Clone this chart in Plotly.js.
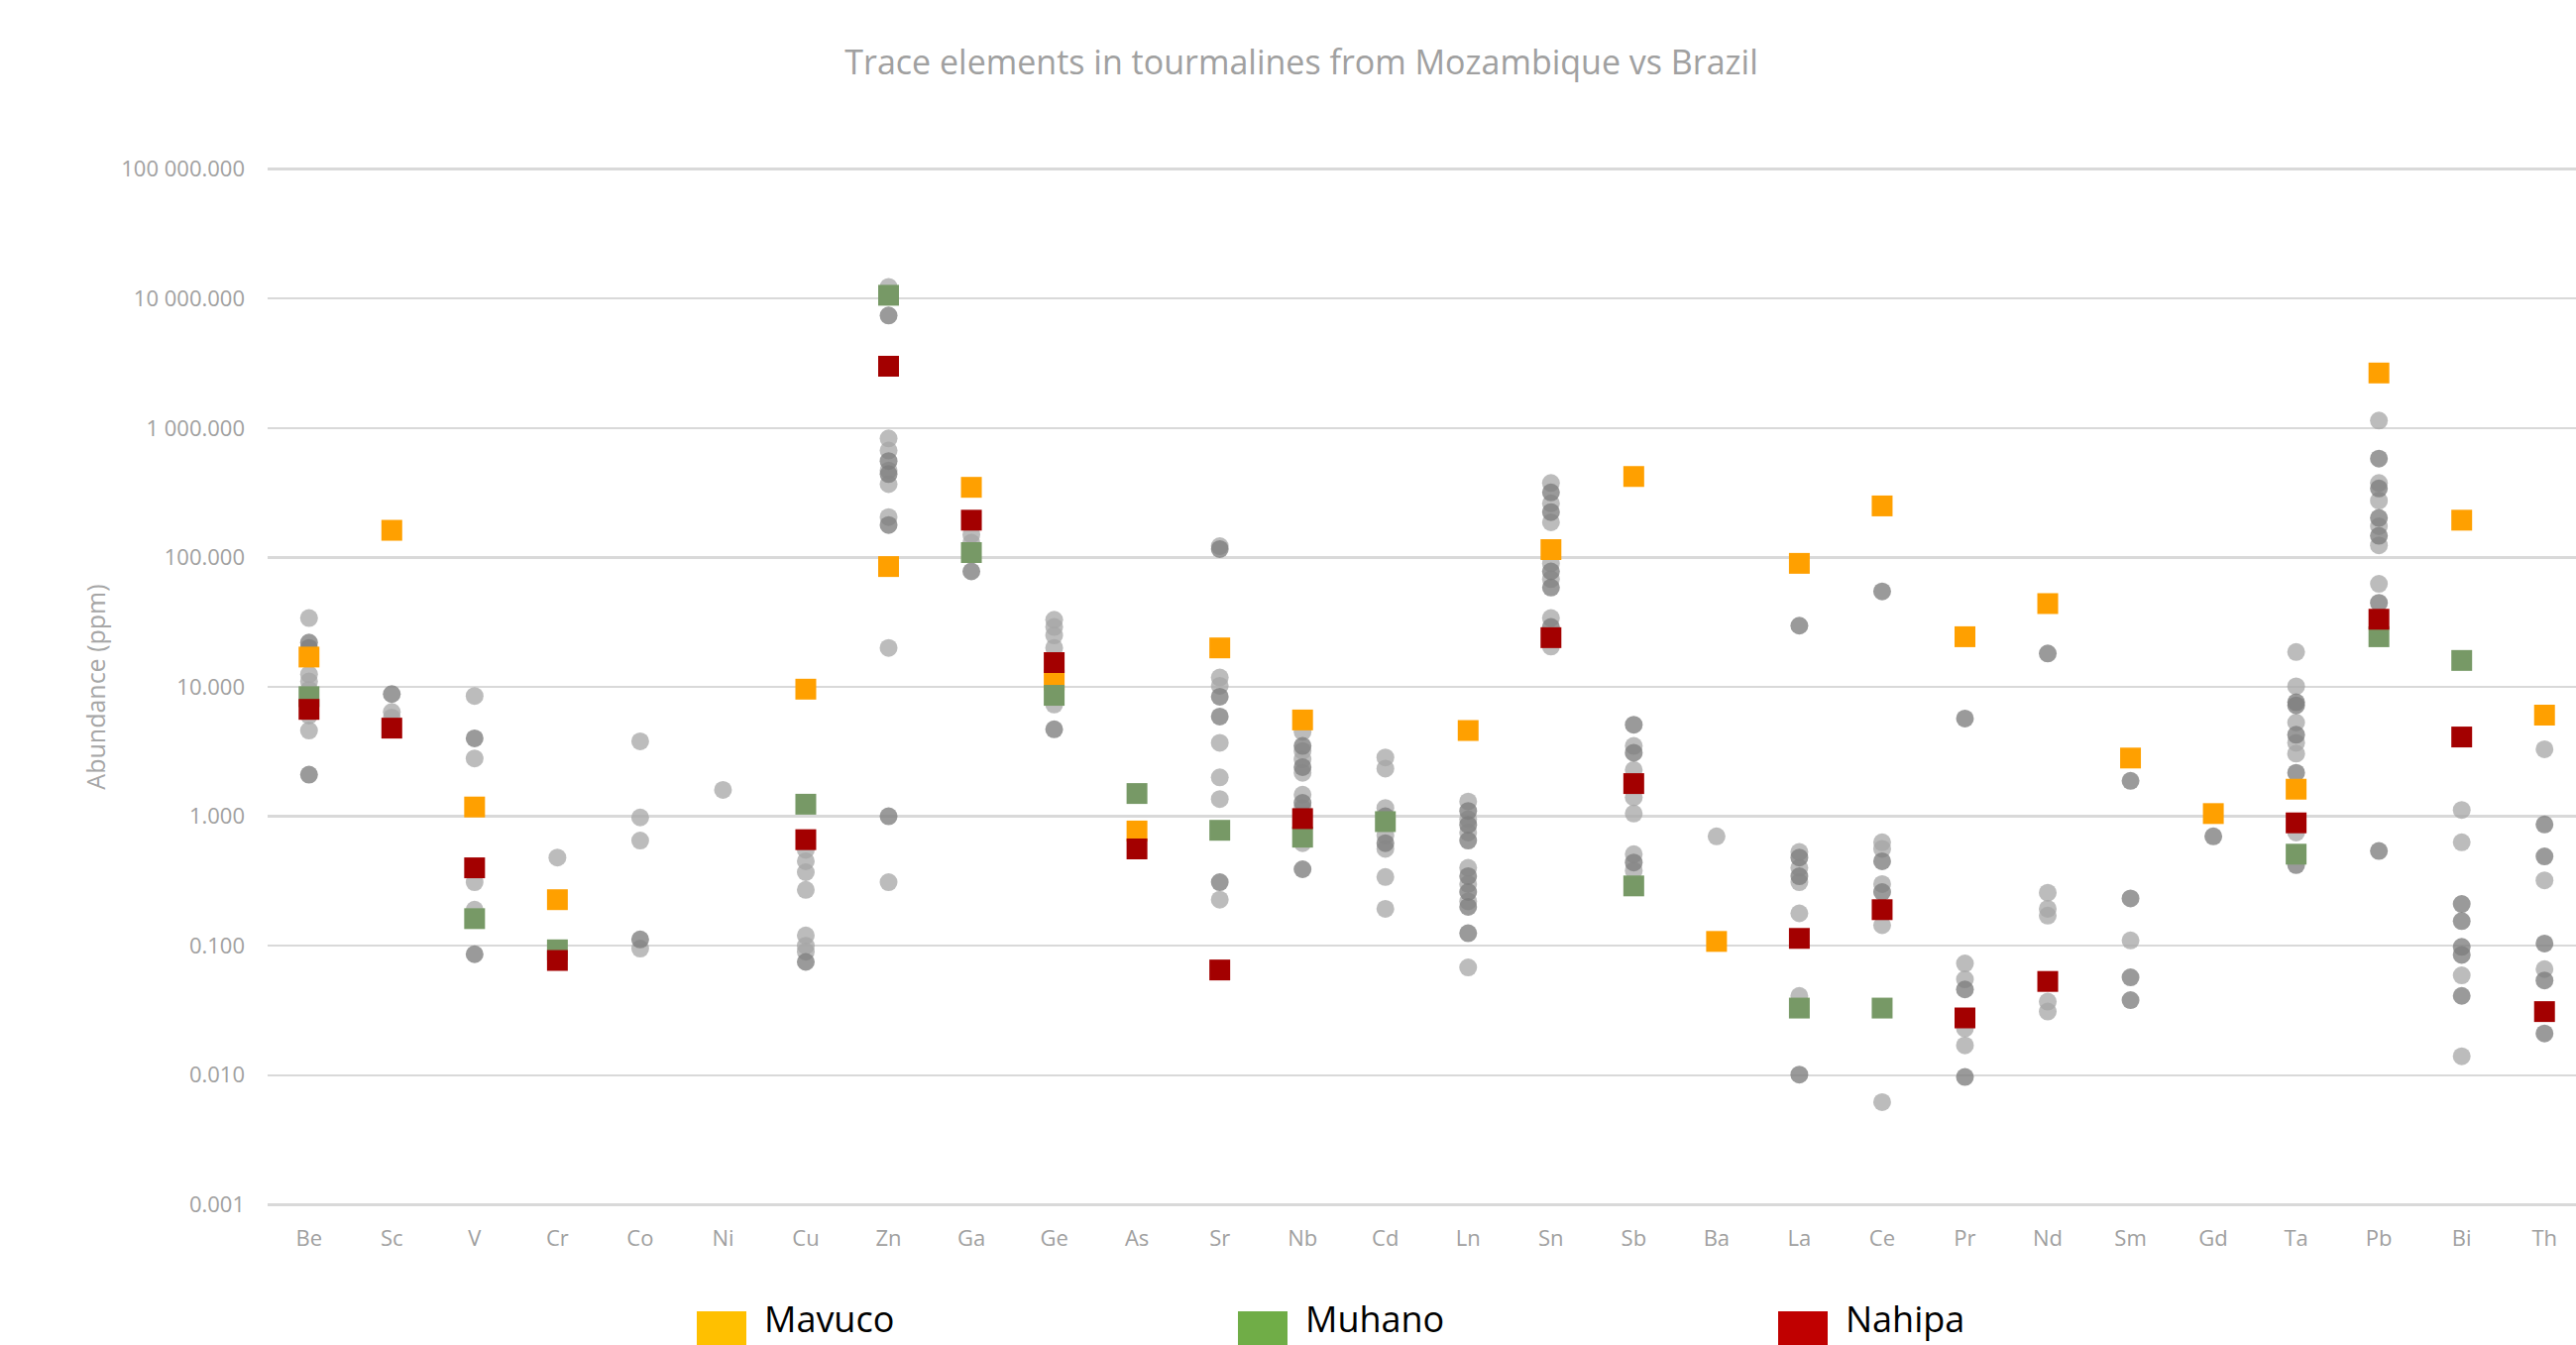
<!DOCTYPE html>
<html>
<head>
<meta charset="utf-8">
<script src="https://cdn.plot.ly/plotly-3.0.1.min.js"></script>
<style>
html, body { margin: 0; padding: 0; overflow: hidden; background: #ffffff; }
#chart { width: 2626px; height: 1357px; }
</style>
</head>
<body>
<div id="chart"></div>
<script>
// ---- Data ----
const elements = ['Be','Sc','V','Cr','Co','Ni','Cu','Zn','Ga','Ge','As','Sr','Nb','Cd','Ln','Sn','Sb','Ba','La','Ce','Pr','Nd','Sm','Gd','Ta','Pb','Bi','Th'];

const mavuco = [17, 162, 1.18, 0.227, null, null, 9.6, 85, 348, 11.3, 0.77, 20, 5.55, null, 4.6, 115, 422, 0.108, 90, 250, 24.4, 44, 2.82, 1.05, 1.62, 2660, 194, 6.05];
const muhano = [8.4, null, 0.162, 0.093, null, null, 1.24, 10600, 109, 8.6, 1.5, 0.78, 0.69, 0.91, null, null, 0.29, null, 0.033, 0.033, null, null, null, null, 0.51, 24.4, 16, null];
const nahipa = [6.7, 4.8, 0.40, 0.077, null, null, 0.66, 3000, 194, 15.4, 0.56, 0.065, 0.96, null, null, 24, 1.79, null, 0.114, 0.19, 0.0277, 0.053, null, null, 0.89, 33.3, 4.1, 0.031];

// Brazil comparison samples (grey dots), one list per element, in element order
const brazilLight = [
  [34, 12.5, 11, 9.5, 6, 4.6],            // Be
  [6.4, 5.8],                             // Sc
  [8.5, 2.8, 0.31, 0.19],                 // V
  [0.48],                                 // Cr
  [3.8, 0.98, 0.65, 0.095],               // Co
  [1.6],                                  // Ni
  [0.55, 0.45, 0.37, 0.27, 0.12, 0.10, 0.09], // Cu
  [12300, 830, 670, 470, 368, 205, 20, 0.31], // Zn
  [150, 130],                             // Ga
  [33, 29, 25, 20, 7.3],                  // Ge
  [],                                     // As
  [122, 11.8, 10.2, 3.7, 2.0, 1.36, 0.227], // Sr
  [4.5, 3.2, 2.76, 2.17, 1.47, 1.16, 0.62], // Nb
  [2.85, 2.34, 1.16, 0.71, 0.56, 0.34, 0.193], // Cd
  [1.3, 0.95, 0.75, 0.40, 0.30, 0.22, 0.068], // Ln
  [376, 262, 187, 90, 68, 34, 20.5],      // Sn
  [3.5, 2.28, 1.4, 1.05, 0.51, 0.38],     // Sb
  [0.70],                                 // Ba
  [0.53, 0.40, 0.31, 0.178, 0.041],       // La
  [0.63, 0.56, 0.30, 0.144, 0.0062],      // Ce
  [0.073, 0.055, 0.023, 0.017],           // Pr
  [0.257, 0.193, 0.171, 0.037, 0.031],    // Nd
  [0.11],                                 // Sm
  [],                                     // Gd
  [18.6, 10.1, 5.3, 3.7, 3.05, 0.75],     // Ta
  [1140, 376, 275, 174, 124, 62.5],       // Pb
  [1.12, 0.63, 0.059, 0.014],             // Bi
  [3.3, 0.32, 0.066]                      // Th
];
const brazilDark = [
  [22, 20, 2.1],                          // Be
  [8.8],                                  // Sc
  [4.0, 0.086],                           // V
  [],                                     // Cr
  [0.112],                                // Co
  [],                                     // Ni
  [0.075],                                // Cu
  [7400, 555, 440, 178, 1.0],             // Zn
  [78],                                   // Ga
  [4.7],                                  // Ge
  [],                                     // As
  [116, 8.4, 5.9, 0.31],                  // Sr
  [3.5, 2.4, 1.27, 0.39],                 // Nb
  [1.0, 0.62],                            // Cd
  [1.1, 0.86, 0.65, 0.345, 0.26, 0.2, 0.125], // Ln
  [318, 224, 78, 58.5, 29],               // Sn
  [5.1, 3.1, 0.44],                       // Sb
  [],                                     // Ba
  [29.7, 0.48, 0.344, 0.0101],            // La
  [54.6, 0.45, 0.26],                     // Ce
  [5.7, 0.046, 0.0097],                   // Pr
  [18.1],                                 // Nd
  [1.88, 0.232, 0.057, 0.038],            // Sm
  [0.70],                                 // Gd
  [7.6, 7.2, 4.27, 2.17, 0.42],           // Ta
  [580, 341, 202, 147, 44.6, 0.54],       // Pb
  [0.21, 0.155, 0.098, 0.085, 0.041],     // Bi
  [0.865, 0.49, 0.104, 0.054, 0.021]      // Th
];

const seriesNames = ['Mavuco', 'Muhano', 'Nahipa'];
const yTickVals = [0.001, 0.01, 0.1, 1, 10, 100, 1000, 10000, 100000];
const yTickText = ['0.001', '0.010', '0.100', '1.000', '10.000', '100.000', '1 000.000', '10 000.000', '100 000.000'];

// ---- Build traces ----
function flatten(groups) {
  const xs = [], ys = [];
  groups.forEach((vals, i) => vals.forEach(v => { xs.push(elements[i]); ys.push(v); }));
  return { x: xs, y: ys };
}
const light = flatten(brazilLight);
const dark = flatten(brazilDark);

const FONT = 'Open Sans, Liberation Sans, sans-serif';
const markerColors = ['#FFA000', '#779966', '#A30000'];
const legendColors = ['#FFC000', '#70AD47', '#C00000'];

const traces = [
  { type: 'scatter', mode: 'markers', name: 'Brazil', x: light.x, y: light.y, showlegend: false,
    marker: { symbol: 'circle', size: 18, color: 'rgba(165,165,165,0.75)' }, hoverinfo: 'x+y' },
  { type: 'scatter', mode: 'markers', name: 'Brazil (2)', x: dark.x, y: dark.y, showlegend: false,
    marker: { symbol: 'circle', size: 18, color: 'rgba(125,125,125,0.78)' }, hoverinfo: 'x+y' }
];
[mavuco, muhano, nahipa].forEach((vals, k) => {
  traces.push({
    type: 'scatter', mode: 'markers', name: seriesNames[k], x: elements, y: vals, showlegend: false,
    marker: { symbol: 'square', size: 21, color: markerColors[k] }, hoverinfo: 'name+x+y'
  });
});

// ---- Custom legend (large squares at the bottom) ----
const W = 2626, H = 1357, ML = 270, MR = 17, MT = 168, MB = 139;
const PW = W - ML - MR, PH = H - MT - MB;
function px2paperX(px) { return (px - ML) / PW; }
function px2paperY(py) { return (H - MB - py) / PH; }
const legendSquareX = [703, 1249, 1794];
const shapes = [], annotations = [];
seriesNames.forEach((nm, k) => {
  shapes.push({
    type: 'rect', xref: 'paper', yref: 'paper', layer: 'above',
    x0: px2paperX(legendSquareX[k]), x1: px2paperX(legendSquareX[k] + 50),
    y0: px2paperY(1373), y1: px2paperY(1323),
    fillcolor: legendColors[k], line: { width: 0 }
  });
  annotations.push({
    xref: 'paper', yref: 'paper', x: px2paperX(legendSquareX[k] + 66), y: px2paperY(1357),
    xanchor: 'left', yanchor: 'bottom', showarrow: false, text: nm,
    font: { family: FONT, size: 36, color: '#000000' }
  });
});

const layout = {
  width: W, height: H,
  margin: { l: ML, r: MR, t: MT, b: MB, pad: 0 },
  paper_bgcolor: '#ffffff', plot_bgcolor: '#ffffff',
  showlegend: false,
  title: {
    text: 'Trace elements in tourmalines from Mozambique vs Brazil',
    xref: 'container', x: 0.5, xanchor: 'center',
    yref: 'container', y: 1 - 63 / H, yanchor: 'middle',
    font: { family: FONT, size: 34, color: '#A0A0A0' }
  },
  xaxis: {
    type: 'category', categoryorder: 'array', categoryarray: elements,
    range: [-0.5, elements.length - 0.5],
    showgrid: false, showline: false, zeroline: false, ticks: '',
    ticklabelstandoff: 16,
    tickfont: { family: FONT, size: 22, color: '#A0A0A0' },
    fixedrange: true
  },
  yaxis: {
    type: 'log', range: [-3.02, 5.02],
    tickmode: 'array', tickvals: yTickVals, ticktext: yTickText,
    showgrid: true, gridcolor: '#D9D9D9', gridwidth: 2.5,
    showline: false, zeroline: false, ticks: '',
    ticklabelstandoff: 22,
    tickfont: { family: FONT, size: 22, color: '#A0A0A0' },
    title: { text: 'Abundance (ppm)', standoff: 8, font: { family: FONT, size: 25, color: '#A6A6A6' } },
    fixedrange: true
  },
  shapes: shapes,
  annotations: annotations
};

Plotly.newPlot('chart', traces, layout, { displayModeBar: false, staticPlot: true });
</script>
</body>
</html>
